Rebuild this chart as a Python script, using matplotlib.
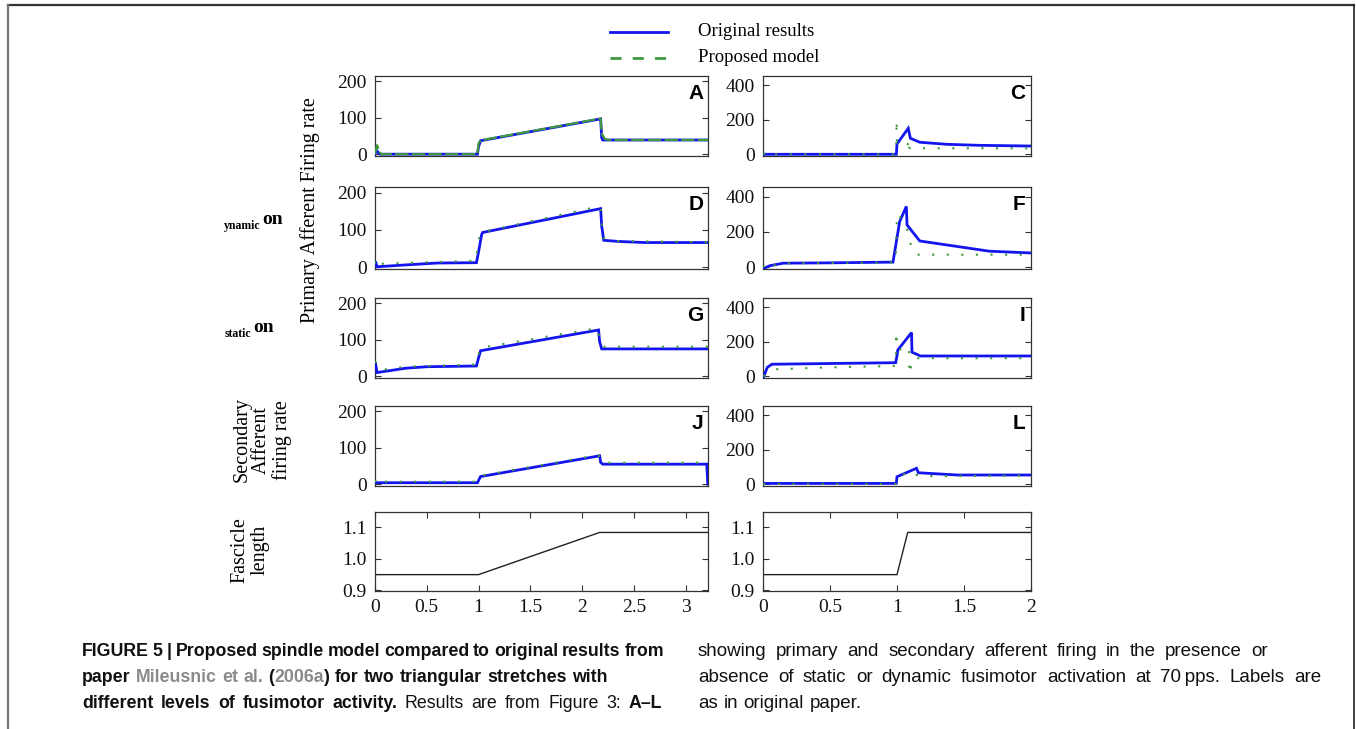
import matplotlib
matplotlib.use("Agg")
import matplotlib.pyplot as plt
from matplotlib.lines import Line2D

# ---------------- data ----------------
# Left column: triangular stretch (slow), Right column: fast stretch
a_t_orig = [0, 0.01, 0.03, 0.05, 0.99, 1.0, 1.02, 2.18, 2.19, 2.2, 3.22]
a_v_orig = [0, 12, 5, 0, 0, 20, 37, 97, 45, 39, 39]
a_t_prop = [0, 0.02, 0.04, 0.06, 0.99, 1.0, 1.02, 2.18, 2.19, 2.22, 2.26, 3.22]
a_v_prop = [0, 25, 8, 0, 0, 30, 38, 98, 57, 42, 39, 39]

d_t_orig = [0, 0.005, 0.02, 0.3, 0.6, 0.98, 1.0, 1.03, 1.04, 2.18, 2.19, 2.21, 2.35, 2.6, 3.22]
d_v_orig = [5, 15, 1, 6, 11, 12, 40, 87, 93, 157, 110, 72, 69, 66, 66]
d_t_prop = [0, 0.01, 0.05, 0.5, 0.98, 0.99, 1.02, 2.15, 2.18, 2.2, 2.3, 3.22]
d_v_prop = [10, 25, 9, 13, 17, 60, 93, 162, 160, 79, 70, 67]

g_t_orig = [0, 0.005, 0.02, 0.3, 0.5, 0.98, 1.0, 1.02, 2.16, 2.17, 2.19, 3.22]
g_v_orig = [30, 35, 10, 22, 26, 28, 50, 70, 127, 95, 75, 75]
g_t_prop = [0, 0.01, 0.05, 0.3, 0.98, 1.0, 1.02, 2.15, 2.17, 2.2, 3.22]
g_v_prop = [40, 38, 17, 26, 32, 60, 78, 132, 100, 81, 81]

j_t_orig = [0, 0.99, 1.0, 1.02, 2.17, 2.18, 2.2, 3.205, 3.215]
j_v_orig = [4, 4, 10, 21, 78, 60, 55, 55, 0]
j_t_prop = [0, 0.02, 0.04, 0.99, 1.0, 1.02, 2.16, 2.18, 2.21, 3.2]
j_v_prop = [6, 17, 7, 7, 15, 23, 80, 65, 59, 59]

c_t_orig = [0, 0.995, 1.0, 1.084, 1.10, 1.17, 1.37, 1.62, 2.0]
c_v_orig = [0, 0, 60, 151, 93, 70, 58, 52, 48]
c_t_prop = [0, 0.03, 0.035, 0.995, 0.997, 1.0, 1.08, 1.082, 1.09, 1.1, 2.0]
c_v_prop = [0, 15, 0, 0, 200, 60, 60, 8, 38, 35, 35]

f_t_orig = [0, 0.05, 0.15, 0.5, 0.97, 1.02, 1.07, 1.075, 1.17, 1.69, 2.0]
f_v_orig = [-8, 9, 23, 25, 29, 259, 345, 240, 149, 91, 81]
f_t_prop = [0, 0.03, 0.05, 0.15, 0.97, 0.99, 1.0, 1.07, 1.09, 1.12, 1.15, 2.0]
f_v_prop = [0, 27, 5, 22, 27, 28, 304, 240, 159, 91, 71, 71]

i_t_orig = [0, 0.03, 0.065, 0.99, 1.0, 1.006, 1.109, 1.112, 1.176, 2.0]
i_v_orig = [-8, 52, 70, 79, 120, 153, 254, 140, 118, 118]
i_t_prop = [0, 0.1, 0.5, 0.99, 0.995, 1.0, 1.09, 1.092, 1.12, 2.0]
i_v_prop = [0, 41, 52, 60, 259, 150, 172, 12, 105, 105]

l_t_orig = [0, 0.995, 1.0, 1.146, 1.16, 1.45, 2.0]
l_v_orig = [5, 5, 44, 93, 67, 54, 54]
l_t_prop = [0, 0.99, 1.0, 1.1, 1.13, 1.25, 2.0]
l_v_prop = [2, 2, 40, 75, 55, 48, 50]

fl_t_left = [0, 1.0, 2.17, 3.22]
fl_v_left = [0.949, 0.949, 1.083, 1.083]
fl_t_right = [0, 1.0, 1.08, 2.0]
fl_v_right = [0.949, 0.949, 1.083, 1.083]

left_rate_ticks = [0, 100, 200]
right_rate_ticks = [0, 200, 400]
fasc_ticks = [0.9, 1.0, 1.1]
fasc_ticklabels = ["0.9", "1.0", "1.1"]
left_xticks = [0, 0.5, 1, 1.5, 2, 2.5, 3]
left_xticklabels = ["0", "0.5", "1", "1.5", "2", "2.5", "3"]
right_xticks = [0, 0.5, 1, 1.5, 2]
right_xticklabels = ["0", "0.5", "1", "1.5", "2"]
panel_letters = ["A", "C", "D", "F", "G", "I", "J", "L"]
legend_labels = ["Original results", "Proposed model"]

# ---------------- figure ----------------
W, H = 1356, 729
plt.rcParams["font.family"] = ["Liberation Serif", "DejaVu Serif"]
fig = plt.figure(figsize=(W / 100, H / 100), dpi=100)
fig.patch.set_facecolor("white")

BLUE = "#1414ee"
GREEN = "#3f9a3f"
SPINE = "#333333"


def fx(x):
    return x / W


def fy(y):
    return 1 - y / H


def add_ax(l, t, r, b):
    return fig.add_axes([l / W, 1 - b / H, (r - l) / W, (b - t) / H])


cols = [(375.0, 708.3), (763.3, 1030.7)]
rows = [(76, 156), (187, 269), (298, 378), (406, 486), (512, 591)]

rate_data = [
    [(a_t_orig, a_v_orig, a_t_prop, a_v_prop), (c_t_orig, c_v_orig, c_t_prop, c_v_prop)],
    [(d_t_orig, d_v_orig, d_t_prop, d_v_prop), (f_t_orig, f_v_orig, f_t_prop, f_v_prop)],
    [(g_t_orig, g_v_orig, g_t_prop, g_v_prop), (i_t_orig, i_v_orig, i_t_prop, i_v_prop)],
    [(j_t_orig, j_v_orig, j_t_prop, j_v_prop), (l_t_orig, l_v_orig, l_t_prop, l_v_prop)],
]


def style_ax(ax):
    for s in ax.spines.values():
        s.set_color(SPINE)
        s.set_linewidth(0.9)
    ax.tick_params(direction="in", length=4, width=0.8, colors=SPINE,
                   labelcolor="#111111", labelsize=14, right=True, top=True,
                   pad=6)


k = 0
for r, (top, bot) in enumerate(rows[:4]):
    for c, (lft, rgt) in enumerate(cols):
        ax = add_ax(lft, top, rgt, bot)
        style_ax(ax)
        to, vo, tp, vp = rate_data[r][c]
        ax.plot(to, vo, color=BLUE, lw=2.0, solid_joinstyle="miter", zorder=3)
        if r == 0 and c == 0:
            ax.plot(tp, vp, color=GREEN, lw=1.6, ls=(0, (6, 1.5)), zorder=4)
        else:
            ax.plot(tp, vp, color=GREEN, lw=1.5, ls=(0, (1, 6)), zorder=4)
        if c == 0:
            ax.set_xlim(0, 3.22)
            ax.set_ylim(-5, 215)
            ax.set_yticks(left_rate_ticks)
        else:
            ax.set_xlim(0, 2.0)
            ax.set_ylim(-10, 455)
            ax.set_yticks(right_rate_ticks)
        ax.set_xticks([])
        ax.annotate(panel_letters[k], xy=(1, 1), xycoords="axes fraction",
                    xytext=(-5, -8), textcoords="offset pixels", ha="right",
                    va="top", fontsize=15, fontweight="bold",
                    family=["Liberation Sans", "DejaVu Sans"])
        k += 1

# fascicle length row
top, bot = rows[4]
for c, (lft, rgt) in enumerate(cols):
    ax = add_ax(lft, top, rgt, bot)
    style_ax(ax)
    if c == 0:
        ax.plot(fl_t_left, fl_v_left, color="#222222", lw=1.0)
        ax.set_xlim(0, 3.22)
        ax.set_xticks(left_xticks)
        ax.set_xticklabels(left_xticklabels)
    else:
        ax.plot(fl_t_right, fl_v_right, color="#222222", lw=1.0)
        ax.set_xlim(0, 2.0)
        ax.set_xticks(right_xticks)
        ax.set_xticklabels(right_xticklabels)
    ax.set_ylim(0.897, 1.148)
    ax.set_yticks(fasc_ticks)
    ax.set_yticklabels(fasc_ticklabels)

# ---------------- legend ----------------
fig.add_artist(Line2D([fx(610), fx(668)], [fy(32), fy(32)], color=BLUE, lw=2))
fig.add_artist(Line2D([fx(610), fx(668)], [fy(58), fy(58)], color=GREEN, lw=2,
                      ls=(0, (4, 4))))
fig.text(fx(698), fy(32), legend_labels[0], fontsize=13.5, va="center", ha="left")
fig.text(fx(698), fy(58), legend_labels[1], fontsize=13.5, va="center", ha="left")

# ---------------- side labels ----------------
fig.text(fx(310), fy(210), "Primary Afferent Firing rate", rotation=90,
         fontsize=14.5, ha="center", va="center")
fig.text(fx(262), fy(440), "Secondary\nAfferent\nfiring rate", rotation=90,
         fontsize=14.5, ha="center", va="center", multialignment="center",
         linespacing=1.05)
fig.text(fx(250), fy(550), "Fascicle\nlength", rotation=90, fontsize=14.5,
         ha="center", va="center", multialignment="center", linespacing=1.05)
fig.text(fx(260), fy(226), "ynamic", fontsize=8.5, fontweight="bold",
         ha="right", va="center")
fig.text(fx(262), fy(220), "on", fontsize=14, fontweight="bold",
         ha="left", va="center")
fig.text(fx(251), fy(334), "static", fontsize=8.5, fontweight="bold",
         ha="right", va="center")
fig.text(fx(253), fy(328), "on", fontsize=14, fontweight="bold",
         ha="left", va="center")

# ---------------- frame ----------------
fig.add_artist(Line2D([fx(8), fx(1354)], [fy(5), fy(5)], color="#333333", lw=1.6))
fig.add_artist(Line2D([fx(8), fx(8)], [fy(5), fy(729)], color="#777777", lw=1.6))
fig.add_artist(Line2D([fx(1354), fx(1354)], [fy(5), fy(729)], color="#222222", lw=1.2))

# ---------------- caption ----------------
CAP_FAMILY = ["Liberation Sans", "DejaVu Sans"]
LEFT_SIZE = 12.75
RIGHT_SIZE = 13.5
GRAY = "#8a8a8a"
B, N = "bold", "normal"
K = "#111111"

cap_lines = [
    # (words, x0, x1, y, justify, size)
    ([[("FIGURE", B, K)], [("5", B, K)], [("|", B, K)], [("Proposed", B, K)],
      [("spindle", B, K)], [("model", B, K)], [("compared", B, K)], [("to", B, K)],
      [("original", B, K)], [("results", B, K)], [("from", B, K)]], 82, 664, 656, True, LEFT_SIZE),
    ([[("paper", B, K)], [("Mileusnic", B, GRAY)], [("et", B, GRAY)], [("al.", B, GRAY)],
      [("(", B, K), ("2006a", B, GRAY), (")", B, K)], [("for", B, K)], [("two", B, K)],
      [("triangular", B, K)], [("stretches", B, K)], [("with", B, K)]], 82, 575, 682, False, LEFT_SIZE),
    ([[("different", B, K)], [("levels", B, K)], [("of", B, K)], [("fusimotor", B, K)],
      [("activity.", B, K)], [("Results", N, K)], [("are", N, K)], [("from", N, K)],
      [("Figure", N, K)], [("3:", N, K)], [("A\u2013L", B, K)]], 82, 662, 708, True, LEFT_SIZE),
    ([[(w, N, K)] for w in "showing primary and secondary afferent firing in the presence or".split()],
     698, 1268, 656, True, RIGHT_SIZE),
    ([[(w, N, K)] for w in "absence of static or dynamic fusimotor activation at 70\u2009pps. Labels are".split(" ")],
     698, 1321, 682, True, RIGHT_SIZE),
    ([[(w, N, K)] for w in "as in original paper.".split()], 698, 900, 708, False, RIGHT_SIZE),
]

renderer = fig.canvas.get_renderer()
for words, x0, x1, y, just, size in cap_lines:
    objs = []
    for word in words:
        parts = []
        for s, wt, col in word:
            t = fig.text(0, 0, s, fontsize=size, fontweight=wt, color=col,
                         family=CAP_FAMILY, va="baseline", ha="left")
            parts.append(t)
        objs.append(parts)
    widths = [[p.get_window_extent(renderer).width for p in parts] for parts in objs]
    total = sum(sum(ws) for ws in widths)
    if just and len(objs) > 1:
        gap = (x1 - x0 - total) / (len(objs) - 1)
    else:
        gap = size * 100 / 72 * 0.3
    x = x0
    for parts, ws in zip(objs, widths):
        for p, w in zip(parts, ws):
            p.set_position((fx(x), fy(y)))
            x += w
        x += gap

fig.savefig("out.png", dpi=100, facecolor="white")
